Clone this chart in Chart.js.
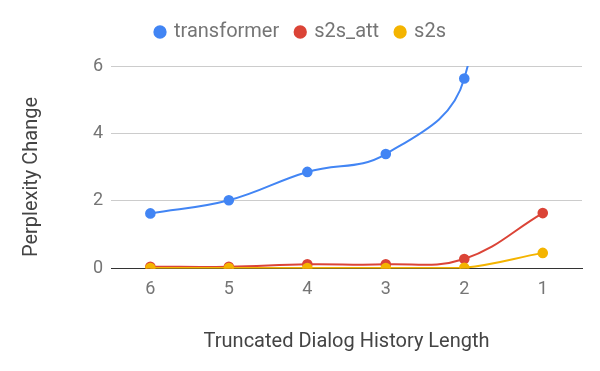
<!DOCTYPE html>
<html>
<head>
<meta charset="utf-8">
<script src="https://cdn.jsdelivr.net/npm/chart.js@4"></script>
<style>
  body { margin: 0; background: #fff; }
  #wrap { width: 600px; height: 371px; }
</style>
</head>
<body>
<div id="wrap"><canvas id="grafico"></canvas></div>
<script>
const categorias = ['6', '5', '4', '3', '2', '1'];
const transformer = [1.63, 2.02, 2.86, 3.39, 5.63, 20];
const s2sAtt = [0.05, 0.05, 0.12, 0.12, 0.28, 1.64];
const s2s = [0.01, 0.01, 0.01, 0.01, 0.02, 0.46];
const yTicks = [0, 2, 4, 6];

const cinza = '#757575';
const tituloY = 'Perplexity Change';

const serie = (label, data, cor, ordem) => ({
  label,
  data,
  borderColor: cor,
  backgroundColor: cor,
  pointBackgroundColor: cor,
  pointBorderColor: cor,
  pointRadius: 4.3,
  pointHoverRadius: 5,
  borderWidth: 2,
  tension: 0.4,
  order: ordem
});

const ctx = document.getElementById('grafico').getContext('2d');
new Chart(ctx, {
  type: 'line',
  data: {
    labels: categorias,
    datasets: [
      serie('transformer', transformer, '#4285F4', 3),
      serie('s2s_att', s2sAtt, '#DB4437', 2),
      serie('s2s', s2s, '#F4B400', 1)
    ]
  },
  options: {
    responsive: true,
    maintainAspectRatio: false,
    animation: false,
    layout: { padding: { top: 5, right: 18, left: 20, bottom: 13 } },
    plugins: {
      legend: {
        display: true,
        position: 'top',
        labels: {
          usePointStyle: true,
          pointStyle: 'circle',
          boxWidth: 8,
          boxHeight: 8,
          padding: 17,
          color: cinza,
          font: { family: 'Roboto', size: 20 },
          sort: (a, b) => a.datasetIndex - b.datasetIndex
        }
      },
      tooltip: { enabled: false }
    },
    scales: {
      x: {
        offset: true,
        grid: { display: false },
        border: { display: true, color: '#333', width: 1 },
        ticks: { color: cinza, font: { family: 'Roboto', size: 18 }, padding: 2 },
        title: {
          display: true,
          text: 'Truncated Dialog History Length',
          color: '#444',
          font: { family: 'Roboto', size: 20 },
          padding: { top: 28 }
        }
      },
      y: {
        min: 0,
        max: 6,
        afterBuildTicks: axis => { axis.ticks = yTicks.map(v => ({ value: v })); },
        afterFit: axis => { axis.width += 65; },
        grid: { color: '#cccccc', drawTicks: false },
        border: { display: false },
        ticks: { color: cinza, font: { family: 'Roboto', size: 18 }, padding: 8 },
        title: { display: false }
      }
    }
  },
  plugins: [{
    id: 'espacoLegenda',
    beforeInit(chart) {
      const fitOriginal = chart.legend.fit;
      chart.legend.fit = function () {
        fitOriginal.bind(chart.legend)();
        this.height += 14;
      };
    }
  }, {
    id: 'tituloEixoY',
    afterDraw(chart) {
      const c = chart.ctx;
      c.save();
      c.translate(32, 177);
      c.rotate(-Math.PI / 2);
      c.font = '20px Roboto';
      c.fillStyle = '#444';
      c.textAlign = 'center';
      c.textBaseline = 'middle';
      c.fillText(tituloY, 0, 0);
      c.restore();
    }
  }]
});
</script>
</body>
</html>
